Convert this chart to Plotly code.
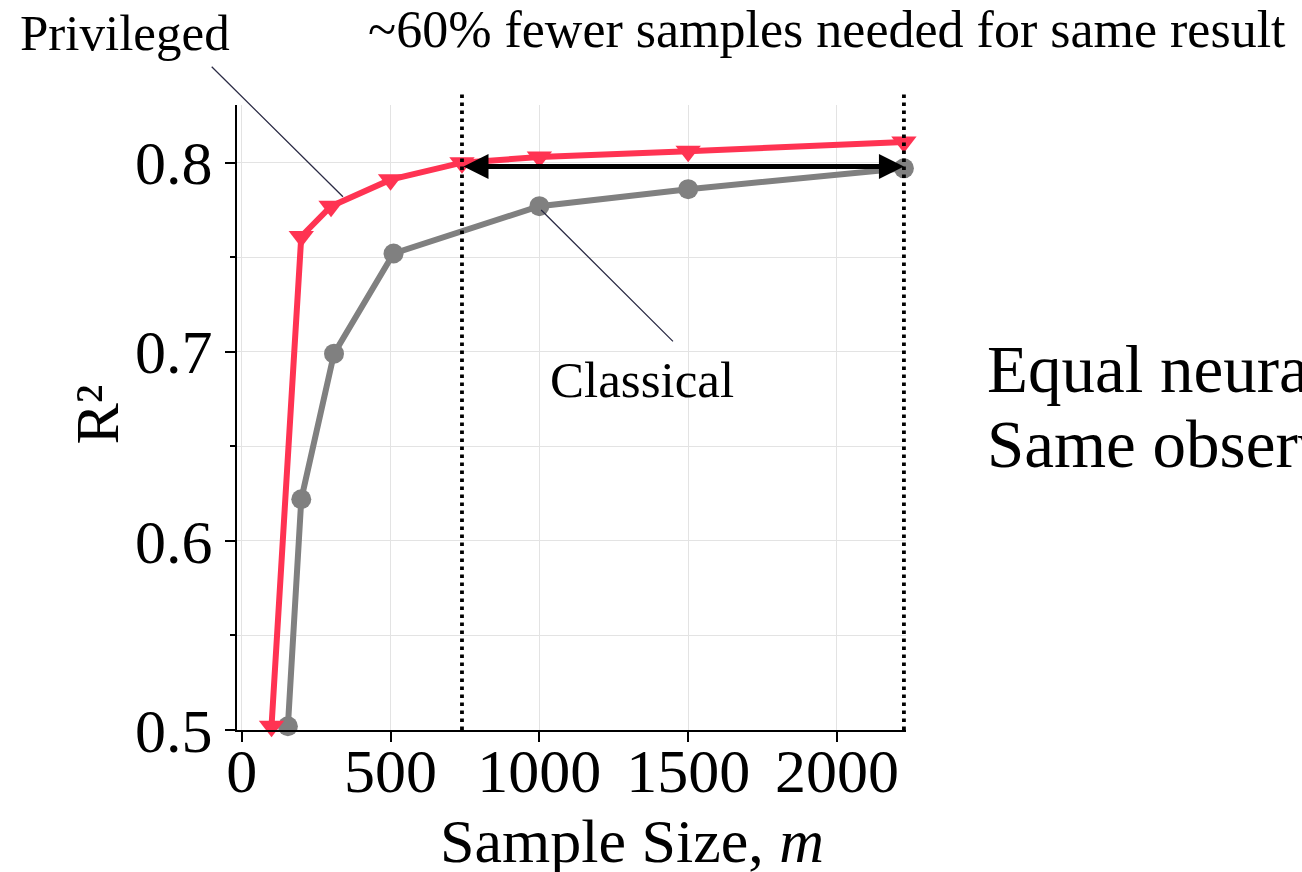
import plotly.graph_objects as go

# ---- data ----
priv_x = [100, 200, 300, 500, 740, 1000, 1500, 2225]
priv_y = [0.502, 0.761, 0.777, 0.791, 0.800, 0.803, 0.806, 0.811]
class_x = [155, 200, 310, 510, 1000, 1500, 2225]
class_y = [0.502, 0.622, 0.699, 0.752, 0.777, 0.786, 0.797]
x_ticks = [0, 500, 1000, 1500, 2000]
y_ticks = [0.5, 0.6, 0.7, 0.8]
y_tick_text = ["0.5", "0.6", "0.7", "0.8"]
match_x = [740, 2225]
match_y = 0.798

FONT = "Palatino Linotype, Book Antiqua, Palatino, Liberation Serif, serif"
RED = "#ff3352"
GRAY = "#808080"

fig = go.Figure()
fig.add_trace(go.Scatter(
    x=class_x, y=class_y, mode="lines+markers", name="Classical",
    line=dict(color=GRAY, width=6),
    marker=dict(symbol="circle", size=20, color=GRAY),
    cliponaxis=False, showlegend=False))
fig.add_trace(go.Scatter(
    x=priv_x, y=priv_y, mode="lines+markers", name="Privileged",
    line=dict(color=RED, width=6),
    marker=dict(symbol="triangle-down", size=22, color=RED),
    cliponaxis=False, showlegend=False))

# vertical dotted lines
for xv in match_x:
    fig.add_shape(type="line", xref="x", yref="paper", x0=xv, x1=xv, y0=0, y1=1.02,
                  line=dict(color="black", width=3.8, dash="3.5px,4.5px"), layer="above")

# double-headed arrow
fig.add_annotation(x=match_x[1], y=match_y, ax=match_x[0], ay=match_y,
                   xref="x", yref="y", axref="x", ayref="y", text="",
                   showarrow=True, arrowhead=2, startarrowhead=2, arrowside="end+start",
                   arrowwidth=5, arrowsize=1.0, startarrowsize=1.0,
                   arrowcolor="black", standoff=0, startstandoff=0)

# callout lines
fig.add_annotation(x=340, y=0.782, ax=-106, ay=0.8515, xref="x", yref="y",
                   axref="x", ayref="y", text="", showarrow=True, arrowhead=0,
                   arrowwidth=1.3, arrowcolor="#2b2b45")
fig.add_annotation(x=1006, y=0.775, ax=1454, ay=0.7047, xref="x", yref="y",
                   axref="x", ayref="y", text="", showarrow=True, arrowhead=0,
                   arrowwidth=1.3, arrowcolor="#2b2b45")

# texts
ann_font = dict(family=FONT, size=51, color="black")
fig.add_annotation(x=-0.1674, y=1.1152, xref="paper", yref="paper", text="Privileged",
                   xanchor="center", yanchor="middle", showarrow=False, font=ann_font)
fig.add_annotation(x=1346, y=0.685, xref="x", yref="y", text="Classical",
                   xanchor="center", yanchor="middle", showarrow=False, font=ann_font)
fig.add_annotation(x=0.882, y=1.12, xref="paper", yref="paper",
                   text="~60% fewer samples needed for same result",
                   xanchor="center", yanchor="middle", showarrow=False,
                   font=dict(family=FONT, size=52, color="black"))
side_font = dict(family=FONT, size=67, color="black")
fig.add_annotation(x=1.118, y=0.578, xref="paper", yref="paper", xanchor="left",
                   yanchor="middle", align="left", text="Equal neural",
                   showarrow=False, font=side_font)
fig.add_annotation(x=1.118, y=0.458, xref="paper", yref="paper", xanchor="left",
                   yanchor="middle", align="left", text="Same observ",
                   showarrow=False, font=side_font)

# axis titles
fig.add_annotation(x=0.590, y=-0.178, xref="paper", yref="paper",
                   xanchor="center", yanchor="middle",
                   text="Sample Size, <i>m</i>", showarrow=False,
                   font=dict(family=FONT, size=62, color="black"))
fig.add_annotation(x=-0.21, y=0.504, xref="paper", yref="paper", text="R²",
                   xanchor="center", yanchor="middle",
                   textangle=-90, showarrow=False,
                   font=dict(family=FONT, size=62, color="black"))

fig.update_layout(
    width=1302, height=872,
    margin=dict(l=237, r=396, t=105, b=142),
    paper_bgcolor="white", plot_bgcolor="white",
    font=dict(family=FONT, size=62, color="black"),
    showlegend=False,
)
fig.update_xaxes(
    range=[-16, 2232], tickvals=x_ticks, ticks="outside", ticklen=10, tickwidth=2,
    tickcolor="black", showline=True, linewidth=2, linecolor="black",
    showgrid=True, gridcolor="#e3e3e3", gridwidth=1, zeroline=False,
    automargin=False, tickfont=dict(size=62), ticklabelstandoff=-24)
fig.update_yaxes(
    range=[0.5, 0.8305], tickvals=y_ticks, ticktext=y_tick_text, ticks="outside",
    ticklen=10, tickwidth=2, tickcolor="black", showline=True, linewidth=2,
    linecolor="black", showgrid=True, gridcolor="#e3e3e3", gridwidth=1, zeroline=False,
    minor=dict(dtick=0.05, tick0=0.5, ticks="outside", ticklen=5, tickwidth=1.5,
               tickcolor="black", showgrid=True, gridcolor="#e3e3e3"),
    automargin=False, tickfont=dict(size=62))

fig.write_html("out.html", config={"displayModeBar": False},
               post_script="document.body.style.margin='0';")
